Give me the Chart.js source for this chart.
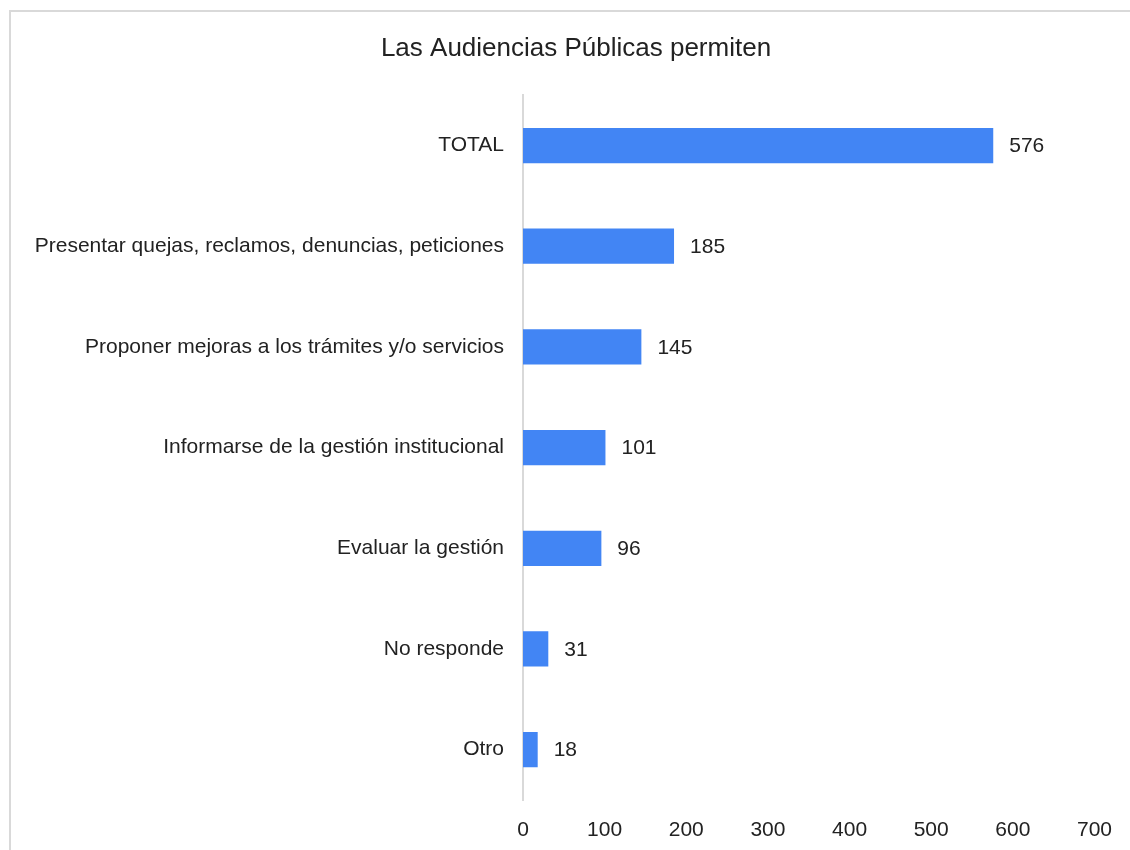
<!DOCTYPE html>
<html>
<head>
<meta charset="utf-8">
<script src="https://cdn.jsdelivr.net/npm/chart.js@4"></script>
<style>
  html, body { margin: 0; padding: 0; background: #fff; }
  #wrap { position: relative; width: 1130px; height: 850px; }
  #frame {
    position: absolute; left: 9px; top: 10px; width: 1200px; height: 900px;
    border-left: 2px solid #d9d9d9; border-top: 2px solid #d9d9d9;
    pointer-events: none;
  }
</style>
</head>
<body>
<div id="wrap">
  <canvas id="chart" width="1130" height="850"></canvas>
  <div id="frame"></div>
</div>
<script>
const categories = [
  'TOTAL',
  'Presentar quejas, reclamos, denuncias, peticiones',
  'Proponer mejoras a los trámites y/o servicios',
  'Informarse de la gestión institucional',
  'Evaluar la gestión',
  'No responde',
  'Otro'
];
const values = [576, 185, 145, 101, 96, 31, 18];
const axisMax = 700;
const axisStep = 100;

const fontFamily = '"Liberation Sans", Arial, sans-serif';
const textColor = '#222';

// draws the value to the right of each bar
const valueLabels = {
  id: 'valueLabels',
  afterDatasetsDraw(chart) {
    const ctx = chart.ctx;
    const meta = chart.getDatasetMeta(0);
    ctx.save();
    ctx.font = '21px ' + fontFamily;
    ctx.fillStyle = textColor;
    ctx.textAlign = 'left';
    ctx.textBaseline = 'middle';
    meta.data.forEach((bar, i) => {
      ctx.fillText(String(values[i]), bar.x + 16, bar.y + 1);
    });
    ctx.restore();
  }
};

// the original title sits a bit right of the canvas centre
const titleShift = {
  id: 'titleShift',
  afterLayout(chart) {
    if (chart.titleBlock) chart.titleBlock.left = 57;
  }
};

new Chart(document.getElementById('chart').getContext('2d'), {
  type: 'bar',
  data: {
    labels: categories,
    datasets: [{
      data: values,
      backgroundColor: '#4285f4',
      borderWidth: 0,
      categoryPercentage: 1,
      barPercentage: 0.35
    }]
  },
  options: {
    indexAxis: 'y',
    responsive: false,
    animation: false,
    layout: { padding: { left: 10, right: 35, top: 10, bottom: 0 } },
    plugins: {
      legend: { display: false },
      tooltip: { enabled: false },
      title: {
        display: true,
        text: 'Las Audiencias Públicas permiten',
        color: textColor,
        font: { family: fontFamily, size: 26, weight: 'normal' },
        padding: { top: 23, bottom: 31 }
      }
    },
    scales: {
      x: {
        min: 0,
        max: axisMax,
        grid: { display: false, drawTicks: false },
        border: { display: false },
        ticks: {
          stepSize: axisStep,
          padding: 18,
          color: textColor,
          font: { family: fontFamily, size: 21 }
        },
        afterFit: s => { s.height = 50; }
      },
      y: {
        grid: { display: false, drawTicks: false },
        border: { display: true, color: '#d9d9d9', width: 2 },
        ticks: {
          padding: 19,
          color: textColor,
          font: { family: fontFamily, size: 21 }
        },
        afterFit: s => { s.width = 513; }
      }
    }
  },
  plugins: [valueLabels, titleShift]
});
</script>
</body>
</html>
